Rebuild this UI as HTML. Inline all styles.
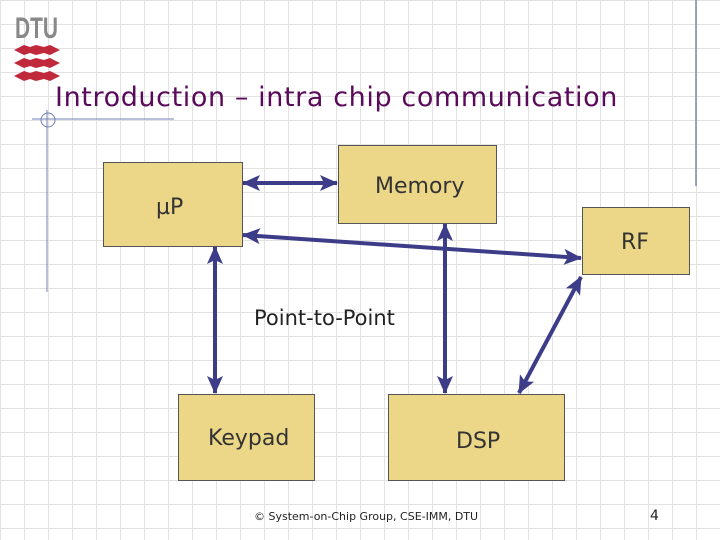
<!DOCTYPE html>
<html><head><meta charset="utf-8"><style>
html,body{margin:0;padding:0}
body{width:720px;height:540px;position:relative;overflow:hidden;background:#fff;font-family:"DejaVu Sans","Liberation Sans",sans-serif;
background-image:repeating-linear-gradient(to right,#e2e2e2 0 1px,transparent 1px 24px),repeating-linear-gradient(to bottom,#e2e2e2 0 1px,transparent 1px 24px);}
.box{position:absolute;background:#ebd787;border:1px solid #555;box-sizing:border-box;color:#333;font-size:22px}
.t{position:absolute;white-space:nowrap}
</style></head><body>
<svg width="720" height="540" style="position:absolute;left:0;top:0">
<line x1="696" y1="0" x2="696" y2="186" stroke="#7a8aa0" stroke-width="1.5"/>
<line x1="32" y1="119" x2="174" y2="119" stroke="#7080b8" stroke-width="1"/>
<line x1="47" y1="110" x2="47" y2="292" stroke="#7080b8" stroke-width="1"/>
<circle cx="48" cy="120" r="7" fill="none" stroke="#7080b8" stroke-width="1"/>
<text x="15" y="38" font-family="Liberation Sans Narrow,Liberation Sans,sans-serif" font-weight="bold" font-size="30" fill="#888" textLength="43" lengthAdjust="spacingAndGlyphs">DTU</text>
<g fill="#c0283c">
<path d="M14 50 L24 45 L30 47 L36 45 L44 47 L50 45 L60 50 L50 55 L44 53 L36 55 L30 53 L24 55 Z"/>
<path d="M14 63 L24 58 L30 60 L36 58 L44 60 L50 58 L60 63 L50 68 L44 66 L36 68 L30 66 L24 68 Z"/>
<path d="M14 76 L24 71 L30 73 L36 71 L44 73 L50 71 L60 76 L50 81 L44 79 L36 81 L30 79 L24 81 Z"/>
</g>
<defs>
<marker id="b" markerWidth="18" markerHeight="16" refX="17" refY="8" orient="auto-start-reverse" markerUnits="userSpaceOnUse"><path d="M0,0 L18,8 L0,16 L4,8 Z" fill="#3c3c88"/></marker></defs>
<g stroke="#3c3c88" stroke-width="4" marker-start="url(#b)" marker-end="url(#b)">
<line x1="243" y1="183" x2="337" y2="183"/>
<line x1="243" y1="235" x2="581" y2="258"/>
<line x1="215" y1="247" x2="215" y2="393"/>
<line x1="445" y1="224" x2="445" y2="393"/>
<line x1="581" y1="277" x2="519" y2="393"/>
</g>
</svg>
<div class="t" style="left:55px;top:82px;font-size:27px;color:#5a0a5a;letter-spacing:0.6px">Introduction – intra chip communication</div>
<div class="box" style="left:103px;top:162px;width:140px;height:85px"><span class="t" style="left:52px;top:32px">µP</span></div>
<div class="box" style="left:338px;top:145px;width:159px;height:79px"><span class="t" style="left:36px;top:28px">Memory</span></div>
<div class="box" style="left:582px;top:207px;width:108px;height:68px"><span class="t" style="left:38px;top:22px">RF</span></div>
<div class="box" style="left:178px;top:394px;width:137px;height:87px"><span class="t" style="left:29px;top:31px">Keypad</span></div>
<div class="box" style="left:388px;top:394px;width:177px;height:87px"><span class="t" style="left:67px;top:34px">DSP</span></div>
<div class="t" style="left:254px;top:306px;font-size:21px;color:#222">Point-to-Point</div>
<div class="t" style="left:254px;top:510px;font-size:11px;color:#222">© System-on-Chip Group, CSE-IMM, DTU</div>
<div class="t" style="left:650px;top:508px;font-size:14px;color:#222">4</div>
</body></html>
